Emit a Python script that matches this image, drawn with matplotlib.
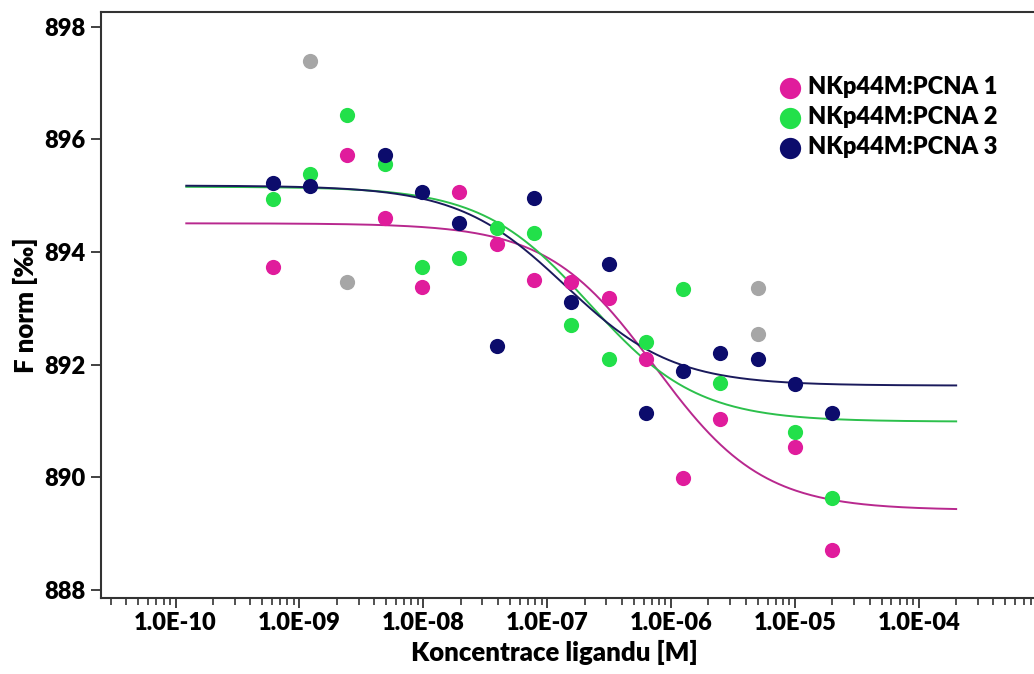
import matplotlib
matplotlib.use('Agg')
import matplotlib.pyplot as plt
import numpy as np
from matplotlib.ticker import LogLocator, FixedLocator, NullFormatter

plt.rcParams['font.family'] = ['Lato', 'DejaVu Sans']
W = 800  # text weight

# ligand concentrations [M], 2-fold dilution series
conc = [6.1e-10, 1.22e-9, 2.44e-9, 4.88e-9, 9.77e-9, 1.95e-8, 3.91e-8, 7.81e-8,
        1.56e-7, 3.13e-7, 6.25e-7, 1.25e-6, 2.5e-6, 5e-6, 1e-5, 2e-5]

nan = np.nan
fnorm_1 = [893.73, nan, 895.72, 894.60, 893.38, 895.06, 894.15, 893.50,
           893.47, 893.19, 892.10, 889.99, 891.04, nan, 890.54, 888.72]
fnorm_2 = [894.94, 895.39, 896.44, 895.56, 893.74, 893.89, 894.43, 894.33,
           892.70, 892.10, 892.41, 893.34, 891.67, nan, 890.81, 889.64]
fnorm_3 = [895.23, 895.18, nan, 895.72, 895.07, 894.51, 892.33, 894.96,
           893.12, 893.79, 891.14, 891.89, 892.20, 892.11, 891.65, 891.15]

# excluded points (grey)
outlier_conc = [1.22e-9, 2.44e-9, 5e-6, 5e-6]
outlier_fnorm = [897.39, 893.46, 893.37, 892.54]

labels = ['NKp44M:PCNA 1', 'NKp44M:PCNA 2', 'NKp44M:PCNA 3']
point_colors = ['#e01c9c', '#22e04a', '#0c0c6c']
line_colors = ['#b8288e', '#2cc04c', '#1a1a5c']

# dose-response fit parameters: unbound, bound, EC50
fit_top = [894.51, 895.16, 895.18]
fit_bottom = [889.42, 890.99, 891.63]
fit_ec50 = [7.4e-7, 2.2e-7, 1.4e-7]
fit_range = [1.22e-10, 2.0e-4]

fig = plt.figure(figsize=(10.34, 6.74), dpi=100)
ax = fig.add_axes([101/1034, 1 - 598/674, 939/1034, 586/674])

xfit = np.logspace(np.log10(fit_range[0]), np.log10(fit_range[1]), 400)
for top, bot, ec50, c in zip(fit_top, fit_bottom, fit_ec50, line_colors):
    yfit = bot + (top - bot) / (1 + xfit / ec50)
    ax.plot(xfit, yfit, color=c, lw=1.4, zorder=2)

ax.scatter(outlier_conc, outlier_fnorm, s=120, color='#a6a6a6', lw=0, zorder=3)
for vals, c, lab in zip([fnorm_1, fnorm_2, fnorm_3], point_colors, labels):
    ax.scatter(conc, vals, s=120, color=c, lw=0, zorder=3, label=lab)

ax.set_xscale('log')
ax.set_xlim(2.5e-11, 9.5e-4)
ax.set_ylim(887.86, 898.26)
ax.set_yticks([888, 890, 892, 894, 896, 898])

ax.xaxis.set_major_locator(FixedLocator([1e-10, 1e-9, 1e-8, 1e-7, 1e-6, 1e-5, 1e-4]))
ax.xaxis.set_minor_locator(LogLocator(base=10, subs=np.arange(2, 10), numticks=30))
ax.xaxis.set_minor_formatter(NullFormatter())
ax.set_xticklabels(['1.0E-10', '1.0E-09', '1.0E-08', '1.0E-07', '1.0E-06', '1.0E-05', '1.0E-04'])

for s in ['left', 'bottom', 'top']:
    ax.spines[s].set_linewidth(1.5)
    ax.spines[s].set_color('#333333')
ax.spines['right'].set_visible(False)

ax.tick_params(axis='both', which='major', direction='out', length=7, width=1.3,
               color='#333333', labelsize=17, pad=4)
ax.tick_params(axis='x', which='minor', direction='out', length=5, width=1.2, color='#333333')
ax.tick_params(axis='x', which='major', pad=3)
for t in ax.get_xticklabels() + ax.get_yticklabels():
    t.set_fontweight(W)

ax.set_xlabel('Koncentrace ligandu [M]', fontsize=18.5, fontweight=W)
ax.xaxis.set_label_coords(0.4824, -0.072)
ax.set_ylabel('F norm [‰]', fontsize=18.5, fontweight=W, labelpad=5)

leg = ax.legend(loc='center left', bbox_to_anchor=(778/1034, 1 - 117/674),
                bbox_transform=fig.transFigure, frameon=False, fontsize=17,
                handlelength=1.0, handletextpad=0.25, labelspacing=0.35,
                borderpad=0, borderaxespad=0, markerscale=1.4)
for t in leg.get_texts():
    t.set_fontweight(W)

fig.savefig('out.png', dpi=100)
